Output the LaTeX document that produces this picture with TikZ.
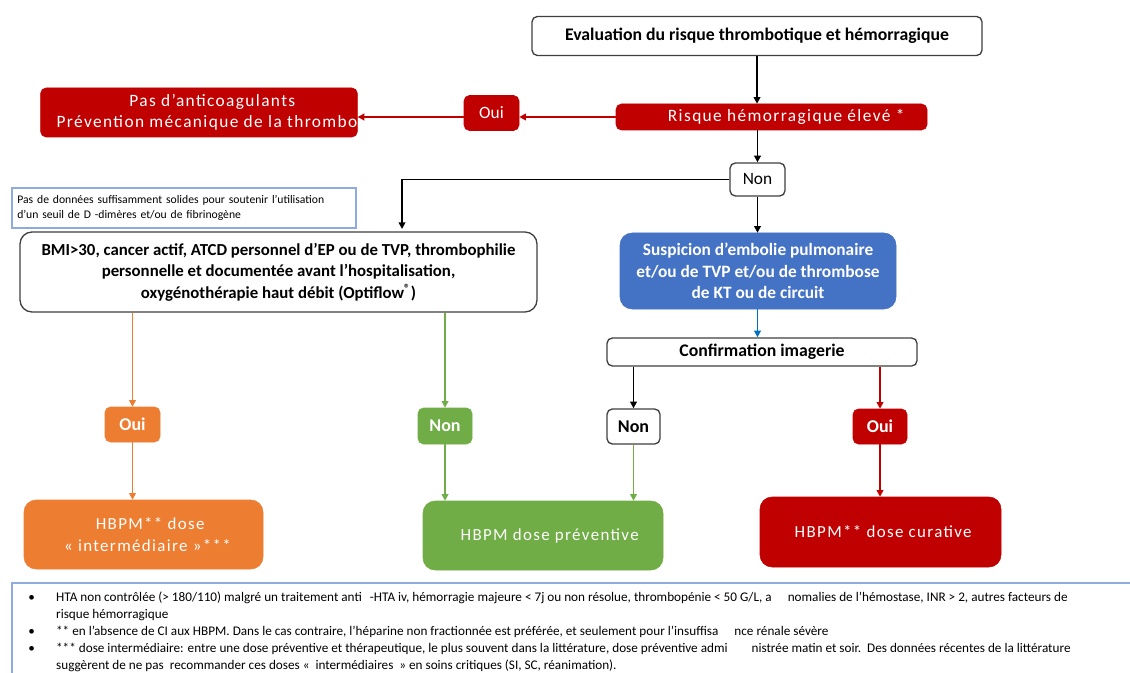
\documentclass[tikz,border=0pt]{standalone}
\usepackage{fontspec}
\setmainfont{Carlito}
\newfontfamily\spacedfont[LetterSpace=8]{Carlito}
\usetikzlibrary{arrows.meta}
\definecolor{rouge}{HTML}{C00000}
\definecolor{orange}{HTML}{ED7D31}
\definecolor{vert}{HTML}{70AD47}
\definecolor{bleu}{HTML}{4472C4}
\definecolor{bleuclair}{HTML}{8FAADC}
\definecolor{bleufleche}{HTML}{0070C0}
\definecolor{bordgris}{HTML}{404040}
\begin{document}
\begin{tikzpicture}[x=0.75pt,y=-0.75pt,
	every node/.style={align=center,inner sep=0pt},
	blanc/.style={draw=bordgris,line width=1pt,fill=white,rounded corners=4pt},
	plein/.style={fill=#1,draw=#1,rounded corners=4pt,text=white},
	fleche/.style={-{Triangle[length=5pt,width=5pt]},line width=1.3pt,draw=#1},
	fleche/.default=black]
	\useasboundingbox (0,0) rectangle (1130,673);

	\node[blanc,minimum width=337.5pt,minimum height=29.25pt,font=\fontsize{13.3}{15}\selectfont\bfseries] (eval) at (757,36) {Evaluation du risque thrombotique et hémorragique};
	\node[plein=rouge,minimum width=233.25pt,minimum height=19.5pt,font=\fontsize{13}{15}\spacedfont] (risque) at (771.5,117) {\hspace*{22pt}Risque hémorragique élevé *};
	\node[plein=rouge,minimum width=41.25pt,minimum height=26.25pt,font=\fontsize{13}{15}\selectfont] (ouiA) at (491.5,113) {Oui};
	\node[plein=rouge,minimum width=235.5pt,minimum height=36.75pt,font=\fontsize{13}{15.5}\spacedfont] (pas) at (199,112.5) {\hspace*{20pt}Pas d’anticoagulants\\\hspace*{12pt}Prévention mécanique de la thrombo};
	\node[blanc,minimum width=41.25pt,minimum height=24.75pt,font=\fontsize{13}{15}\selectfont] (nonA) at (757.5,179.5) {Non};
	\node[draw=bleuclair,line width=0.8pt,fill=white,minimum width=258pt,minimum height=30pt,text width=250pt,align=left,font=\fontsize{8.75}{11.5}\selectfont] (note) at (184,208) {Pas de données suffisamment solides pour soutenir l’utilisation\\d’un seuil de D -dimères et/ou de fibrinogène};
	\node[blanc,rounded corners=9pt,minimum width=387.75pt,minimum height=60pt,font=\fontsize{12.6}{16}\selectfont\bfseries] (bmi) at (278.5,272) {BMI>30, cancer actif, ATCD personnel d’EP ou de TVP, thrombophilie\\personnelle et documentée avant l’hospitalisation,\\oxygénothérapie haut débit (Optiflow\textsuperscript{\textregistered})};
	\node[plein=bleu,rounded corners=9pt,minimum width=207pt,minimum height=57pt,font=\fontsize{13}{16}\selectfont\bfseries] (susp) at (758,271) {Suspicion d’embolie pulmonaire\\et/ou de TVP et/ou de thrombose\\de KT ou de circuit};
	\node[blanc,minimum width=232.5pt,minimum height=21pt,font=\fontsize{13.3}{15}\selectfont\bfseries] (conf) at (762,352) {Confirmation imagerie};
	\node[blanc,minimum width=39.75pt,minimum height=26.25pt,font=\fontsize{13.5}{15}\selectfont\bfseries] (nonB) at (633.5,426.5) {Non};
	\node[plein=rouge,minimum width=40.5pt,minimum height=26.25pt,font=\fontsize{13.5}{15}\selectfont\bfseries] (ouiB) at (880,426.5) {Oui};
	\node[plein=orange,minimum width=41.25pt,minimum height=26.25pt,font=\fontsize{13.5}{15}\selectfont\bfseries] (ouiC) at (132.5,424.5) {Oui};
	\node[plein=vert,minimum width=40.5pt,minimum height=27pt,font=\fontsize{13.5}{15}\selectfont\bfseries] (nonC) at (445,426) {Non};
	\node[plein=orange,rounded corners=9pt,minimum width=179.25pt,minimum height=51.75pt,font=\fontsize{12.7}{16}\spacedfont] (interm) at (143.5,534.5) {\hspace*{10pt}HBPM** dose\\\hspace*{6pt}« intermédiaire »***};
	\node[plein=vert,rounded corners=9pt,minimum width=180pt,minimum height=51.75pt,font=\fontsize{12.7}{16}\spacedfont] (prev) at (543,535.5) {\hspace*{10pt}HBPM dose préventive};
	\node[plein=rouge,rounded corners=9pt,minimum width=180.75pt,minimum height=52.5pt,font=\fontsize{12.7}{16}\spacedfont] (cur) at (880.5,532) {\hspace*{4pt}HBPM** dose curative};

	\coordinate (bmiIn) at (402,229);

	\draw[fleche] (eval) -- (eval |- risque.north);
	\draw[fleche=rouge] (risque.west) -- (risque.west -| ouiA.east);
	\draw[fleche=rouge] (ouiA.west |- risque.west) -- (risque.west -| pas.east);
	\draw[fleche] (nonA |- risque.south) -- (nonA);
	\draw[fleche] (nonA) -| (bmiIn);
	\draw[fleche] (nonA) -- (nonA |- susp.north);
	\draw[fleche=bleufleche] (nonA |- susp.south) -- (nonA |- conf.north);
	\draw[fleche] (nonB |- conf.south) -- (nonB);
	\draw[fleche=rouge] (ouiB |- conf.south) -- (ouiB);
	\draw[fleche=vert] (nonB) -- (nonB |- prev.north);
	\draw[fleche=rouge] (ouiB) -- (ouiB |- cur.north);
	\draw[fleche=orange] (ouiC |- bmi.south) -- (ouiC);
	\draw[fleche=orange] (ouiC) -- (ouiC |- interm.north);
	\draw[fleche=vert] (nonC |- bmi.south) -- (nonC);
	\draw[fleche=vert] (nonC) -- (nonC |- prev.north);

	\draw[bleuclair,line width=0.8pt] (12,673) -- (12,583) -- (1130,583);
	\node[anchor=north west,align=left,font=\fontsize{9.9}{12.75}\selectfont] (notes) at (28,589) {%
		\begin{tabular}{@{}l@{\hspace{16pt}}l@{}}
			• & HTA non contrôlée (> 180/110) malgré un traitement anti\hspace{6pt}-HTA iv, hémorragie majeure < 7j ou non résolue, thrombopénie < 50 G/L, a\hspace{12pt}nomalies de l’hémostase, INR > 2, autres facteurs de\\
			& risque hémorragique\\
			• & ** en l’absence de CI aux HBPM. Dans le cas contraire, l’héparine non fractionnée est préférée, et seulement pour l’insuffisa\hspace{12pt}nce rénale sévère\\
			• & *** dose intermédiaire: entre une dose préventive et thérapeutique, le plus souvent dans la littérature, dose préventive admi\hspace{18pt}nistrée matin et soir.\ \ Des données récentes de la littérature\\
			& suggèrent de ne pas\ \ recommander ces doses «\ \ intermédiaires\ \ » en soins critiques (SI, SC, réanimation).
		\end{tabular}};
\end{tikzpicture}
\end{document}
